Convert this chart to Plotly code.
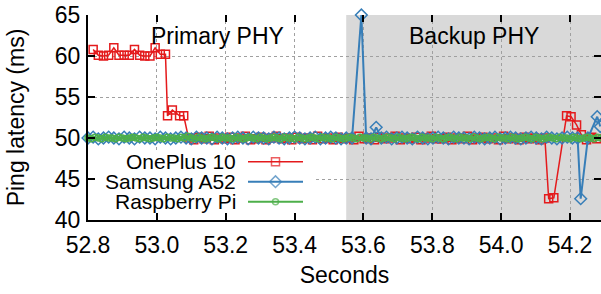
import plotly.graph_objects as go

# ---------------- data ----------------
x_ticks = [52.8, 53.0, 53.2, 53.4, 53.6, 53.8, 54.0, 54.2]
x_tick_labels = ["52.8", "53.0", "53.2", "53.4", "53.6", "53.8", "54.0", "54.2"]
y_ticks = [40, 45, 50, 55, 60, 65]

phase_labels = ["Primary PHY", "Backup PHY"]
backup_start = 53.55

series_names = ["OnePlus 10", "Samsung A52", "Raspberry Pi"]

oneplus_t = [
    52.815, 52.830, 52.845, 52.860, 52.875, 52.890, 52.905, 52.920, 52.935, 52.950,
    52.965, 52.980, 52.995, 53.010, 53.025,
    53.031, 53.045, 53.066, 53.078,
    53.092, 53.107, 53.122, 53.137, 53.152, 53.167, 53.182, 53.197, 53.212, 53.227,
    53.242, 53.257, 53.272, 53.287, 53.302, 53.317, 53.332, 53.347, 53.362, 53.377,
    53.392, 53.407, 53.422, 53.437, 53.452, 53.467, 53.482, 53.497, 53.512, 53.527,
    53.542, 53.557, 53.572, 53.587, 53.602, 53.617, 53.632, 53.647, 53.662, 53.677,
    53.692, 53.707, 53.722, 53.737, 53.752, 53.767, 53.782, 53.797, 53.812, 53.827,
    53.842, 53.857, 53.872, 53.887, 53.902, 53.917, 53.932, 53.947, 53.962, 53.977,
    53.992, 54.007, 54.022, 54.037, 54.052, 54.067, 54.082, 54.097, 54.112, 54.127,
    54.138, 54.153, 54.190, 54.203, 54.219, 54.233, 54.248, 54.263, 54.278,
]
oneplus_ms = [
    60.8, 60.1, 60.0, 60.1, 61.0, 60.1, 60.1, 60.1, 60.8, 60.1,
    60.0, 60.0, 61.0, 60.2, 60.2,
    52.7, 53.4, 52.7, 52.7,
    50.0, 49.8, 50.1, 49.9, 50.2, 49.8, 50.0, 49.9, 50.1, 49.8,
    50.0, 50.2, 49.8, 49.9, 50.1, 49.8, 50.0, 50.2, 49.9, 50.0,
    49.8, 50.1, 49.9, 50.0, 49.8, 50.2, 49.9, 50.0, 49.8, 50.1,
    49.9, 50.0, 49.8, 50.2, 49.9, 50.0, 49.8, 50.1, 49.9, 50.0,
    50.2, 49.8, 50.0, 49.9, 50.1, 49.8, 50.0, 50.2, 49.9, 49.9,
    50.1, 49.8, 50.0, 49.9, 50.2, 49.8, 50.0, 50.1, 49.9, 50.0,
    49.8, 50.2, 49.9, 50.0, 49.8, 50.1, 49.9, 50.0, 49.8, 50.0,
    42.6, 42.7, 52.7, 52.6, 51.6, 50.4, 49.8, 50.1, 49.9,
]

samsung_t = [
    52.800, 52.815, 52.830, 52.845, 52.860, 52.875, 52.890, 52.905, 52.920, 52.935,
    52.950, 52.965, 52.980, 52.995, 53.010, 53.025, 53.040, 53.055, 53.070, 53.085,
    53.100, 53.115, 53.130, 53.145, 53.160, 53.175, 53.190, 53.205, 53.220, 53.235,
    53.250, 53.265, 53.280, 53.295, 53.310, 53.325, 53.340, 53.355, 53.370, 53.385,
    53.400, 53.415, 53.430, 53.445, 53.460, 53.475, 53.490, 53.505, 53.520, 53.535,
    53.550,
    53.567, 53.594, 53.608, 53.622, 53.637, 53.652,
    53.667, 53.682, 53.697, 53.712, 53.727, 53.742, 53.757, 53.772, 53.787, 53.802,
    53.817, 53.832, 53.847, 53.862, 53.877, 53.892, 53.907, 53.922, 53.937, 53.952,
    53.967, 53.982, 53.997, 54.012, 54.027, 54.042, 54.057, 54.072, 54.087, 54.102,
    54.117, 54.132, 54.147, 54.162, 54.177, 54.192, 54.207,
    54.222, 54.231, 54.252, 54.279, 54.288,
]
samsung_ms = [
    50.0, 50.1, 49.9, 50.0, 50.1, 50.0, 49.9, 50.1, 50.0, 49.9,
    50.1, 50.0, 50.0, 49.9, 50.1, 50.0, 49.9, 50.0, 50.1, 50.0,
    49.9, 50.1, 50.0, 50.0, 49.9, 50.1, 50.0, 49.9, 50.0, 50.1,
    50.0, 49.9, 50.1, 50.0, 50.0, 49.9, 50.1, 50.0, 49.9, 50.0,
    50.1, 50.0, 49.9, 50.0, 50.1, 49.9, 50.0, 50.1, 50.0, 49.9,
    50.0,
    50.0, 65.0, 50.0, 49.9, 51.3, 50.0,
    50.1, 49.9, 50.0, 50.1, 50.0, 49.9, 50.1, 50.0, 49.9, 50.0,
    50.1, 50.0, 49.9, 50.1, 50.0, 50.0, 49.9, 50.1, 50.0, 49.9,
    50.0, 50.1, 49.9, 50.0, 50.1, 50.0, 49.9, 50.0, 50.1, 50.0,
    49.9, 50.1, 50.0, 49.9, 50.0, 50.1, 50.0,
    50.0, 42.6, 50.0, 52.6, 51.4,
]

raspberry_t = [
    52.80, 52.81, 52.82, 52.83, 52.84, 52.85, 52.86, 52.87, 52.88, 52.89,
    52.90, 52.91, 52.92, 52.93, 52.94, 52.95, 52.96, 52.97, 52.98, 52.99,
    53.00, 53.01, 53.02, 53.03, 53.04, 53.05, 53.06, 53.07, 53.08, 53.09,
    53.10, 53.11, 53.12, 53.13, 53.14, 53.15, 53.16, 53.17, 53.18, 53.19,
    53.20, 53.21, 53.22, 53.23, 53.24, 53.25, 53.26, 53.27, 53.28, 53.29,
    53.30, 53.31, 53.32, 53.33, 53.34, 53.35, 53.36, 53.37, 53.38, 53.39,
    53.40, 53.41, 53.42, 53.43, 53.44, 53.45, 53.46, 53.47, 53.48, 53.49,
    53.50, 53.51, 53.52, 53.53, 53.54, 53.55, 53.56, 53.57, 53.58, 53.59,
    53.60, 53.61, 53.62, 53.63, 53.64, 53.65, 53.66, 53.67, 53.68, 53.69,
    53.70, 53.71, 53.72, 53.73, 53.74, 53.75, 53.76, 53.77, 53.78, 53.79,
    53.80, 53.81, 53.82, 53.83, 53.84, 53.85, 53.86, 53.87, 53.88, 53.89,
    53.90, 53.91, 53.92, 53.93, 53.94, 53.95, 53.96, 53.97, 53.98, 53.99,
    54.00, 54.01, 54.02, 54.03, 54.04, 54.05, 54.06, 54.07, 54.08, 54.09,
    54.10, 54.11, 54.12, 54.13, 54.14, 54.15, 54.16, 54.17, 54.18, 54.19,
    54.20, 54.21, 54.22, 54.23, 54.24, 54.25, 54.26, 54.27, 54.28, 54.29,
]
raspberry_ms = [
    50.0, 49.9, 50.1, 50.0, 49.9, 50.1, 50.0, 50.0, 49.9, 50.1,
    50.0, 49.9, 50.0, 50.1, 50.0, 49.9, 50.1, 50.0, 49.9, 50.0,
    50.1, 50.0, 49.9, 50.1, 50.0, 50.0, 49.9, 50.1, 50.0, 50.2,
    50.0, 49.9, 50.1, 50.0, 49.9, 50.0, 50.1, 50.0, 49.9, 50.1,
    50.0, 50.0, 49.9, 50.1, 50.0, 49.9, 50.0, 50.1, 50.0, 49.9,
    50.1, 50.0, 49.9, 50.0, 50.1, 50.0, 49.9, 50.1, 50.0, 50.0,
    49.9, 50.1, 50.0, 49.9, 50.0, 50.1, 50.0, 49.9, 50.1, 50.0,
    50.0, 49.9, 50.1, 50.0, 49.9, 50.0, 50.1, 50.0, 49.9, 50.1,
    50.0, 50.0, 49.9, 50.1, 50.0, 49.9, 50.0, 50.1, 50.0, 49.9,
    50.1, 50.0, 49.9, 50.0, 50.1, 50.0, 49.9, 50.1, 50.0, 50.0,
    49.9, 50.1, 50.0, 49.9, 50.0, 50.1, 50.0, 49.9, 50.1, 50.0,
    50.0, 49.9, 50.1, 50.0, 49.9, 50.0, 50.1, 50.0, 49.9, 50.1,
    50.0, 50.0, 49.9, 50.1, 50.0, 49.9, 50.0, 50.1, 50.0, 49.9,
    50.1, 50.0, 49.9, 50.0, 50.1, 50.0, 49.9, 50.1, 50.0, 50.0,
    49.9, 50.1, 50.0, 49.9, 50.0, 50.1, 50.0, 49.9, 50.1, 50.0,
]

# ---------------- styles ----------------
FONT = "Liberation Sans, Arial, sans-serif"
colors = ["#e41a1c", "#377eb8", "#4daf4a"]
symbols = ["square-open", "diamond-open", "circle-open"]
msizes = [8, 9, 6]
lwidths = [1.5, 2, 2]
X_RANGE = [52.8, 54.29]
Y_RANGE = [40, 65]

fig = go.Figure()

data = [(oneplus_t, oneplus_ms), (samsung_t, samsung_ms), (raspberry_t, raspberry_ms)]
for i, (t, v) in enumerate(data):
    fig.add_trace(go.Scatter(
        x=t, y=v, mode="lines+markers", name=series_names[i],
        line=dict(color=colors[i], width=lwidths[i]),
        marker=dict(symbol=symbols[i], size=msizes[i], color=colors[i],
                    line=dict(width=1.5, color=colors[i])),
        cliponaxis=False, showlegend=False,
    ))

# custom legend (text left of sample, gnuplot style) on a pixel-unit overlay axis
leg_rows = [161.7, 181.7, 201.7]
for i in range(3):
    fig.add_trace(go.Scatter(
        x=[248, 275.5, 303], y=[leg_rows[i]] * 3, mode="lines+markers",
        line=dict(color=colors[i], width=lwidths[i]),
        marker=dict(symbol=symbols[i], size=[0, msizes[i], 0], color=colors[i],
                    line=dict(width=1.5, color=colors[i])),
        xaxis="x3", yaxis="y3", showlegend=False, hoverinfo="skip",
    ))
    fig.add_annotation(x=237, y=leg_rows[i], xref="x3", yref="y3", text=series_names[i],
                       showarrow=False, xanchor="right", yanchor="middle", borderpad=0,
                       font=dict(family=FONT, size=21, color="black"))

# backup-phase shading and legend background (hides grid under the key)
fig.add_shape(type="rect", xref="x", yref="paper", x0=backup_start, x1=X_RANGE[1],
              y0=0, y1=1, fillcolor="#d9d9d9", line=dict(width=0), layer="below")
fig.add_shape(type="rect", xref="x", yref="y", x0=52.803, x1=53.454, y0=40.7, y1=48.5,
              fillcolor="white", line=dict(width=0), layer="between")

fig.add_annotation(x=53.175, y=62.45, text=phase_labels[0], showarrow=False,
                   font=dict(family=FONT, size=23, color="black"))
fig.add_annotation(x=53.922, y=62.45, text=phase_labels[1], showarrow=False,
                   font=dict(family=FONT, size=23, color="black"))

axis_common = dict(ticks="inside", ticklen=7, tickwidth=1.5, tickcolor="black",
                   tickfont=dict(family=FONT, size=23, color="black"), automargin=False)
grid = dict(showgrid=True, gridcolor="#a0a0a0", griddash="dot", gridwidth=1)

fig.update_layout(
    width=601, height=294,
    margin=dict(l=88, r=0, t=15, b=74, autoexpand=False),
    paper_bgcolor="white", plot_bgcolor="white",
    font=dict(family=FONT, size=23, color="black"),
    hovermode=False,
    xaxis=dict(range=X_RANGE, tickvals=x_ticks, ticktext=x_tick_labels,
               showline=True, linecolor="black", linewidth=2, zeroline=False,
               ticklabelstandoff=3,
               title=dict(text="Seconds", font=dict(family=FONT, size=23), standoff=10),
               **axis_common, **grid),
    yaxis=dict(range=Y_RANGE, tickvals=y_ticks, showline=True, linecolor="black",
               linewidth=2, zeroline=False, ticklabelstandoff=1,
               title=dict(text="Ping latency (ms)", font=dict(family=FONT, size=23), standoff=24),
               **axis_common, **grid),
    xaxis2=dict(overlaying="x", side="top", range=X_RANGE, tickvals=x_ticks,
                showticklabels=False, showline=False, showgrid=False, zeroline=False,
                ticks="inside", ticklen=7, tickwidth=1.5, tickcolor="black", automargin=False),
    yaxis2=dict(overlaying="y", side="right", range=Y_RANGE, tickvals=y_ticks,
                showticklabels=False, showline=False, showgrid=False, zeroline=False,
                ticks="inside", ticklen=7, tickwidth=1.5, tickcolor="black", automargin=False),
    xaxis3=dict(overlaying="x", range=[88, 601], visible=False, anchor="y3", automargin=False),
    yaxis3=dict(overlaying="y", range=[220, 15], visible=False, anchor="x3", automargin=False),
)

# invisible trace so the mirrored tick axes are drawn
fig.add_trace(go.Scatter(x=[X_RANGE[0]], y=[Y_RANGE[0]], xaxis="x2", yaxis="y2",
                         mode="markers", marker=dict(opacity=0), showlegend=False,
                         hoverinfo="skip"))

fig.write_html("out.html", config={"displayModeBar": False},
               post_script="document.body.style.margin='0';")
